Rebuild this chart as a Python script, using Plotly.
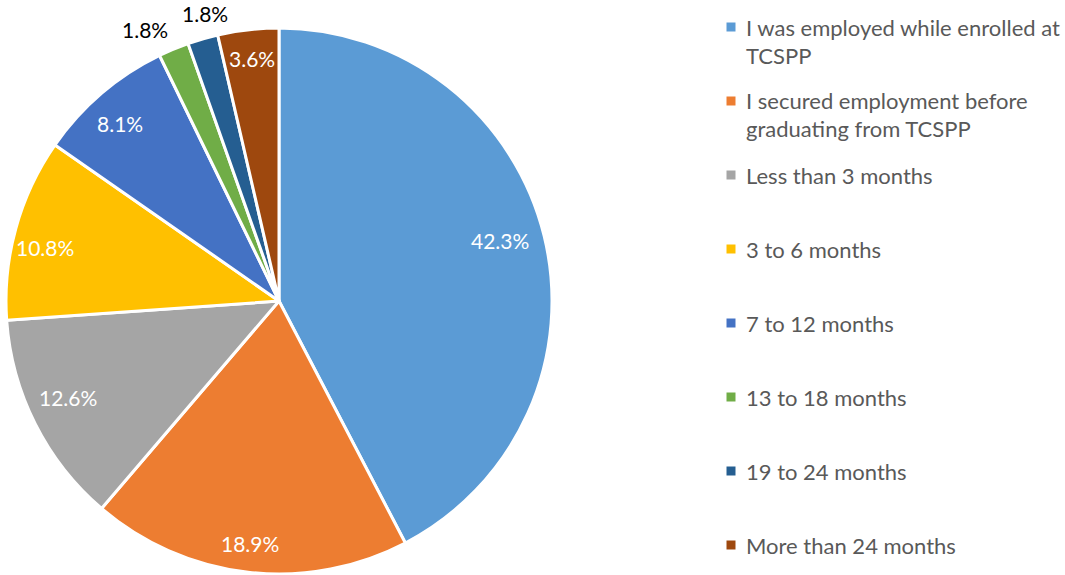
import math
import plotly.graph_objects as go

categories = [
    "I was employed while enrolled at<br>TCSPP",
    "I secured employment before<br>graduating from TCSPP",
    "Less than 3 months",
    "3 to 6 months",
    "7 to 12 months",
    "13 to 18 months",
    "19 to 24 months",
    "More than 24 months",
]
values = [42.3, 18.9, 12.6, 10.8, 8.1, 1.8, 1.8, 3.6]
colors = ["#5B9BD5", "#ED7D31", "#A5A5A5", "#FFC000", "#4472C4", "#70AD47", "#255E91", "#9E480E"]

# label style per slice: (inside?, radius as fraction of pie radius, angular nudge in degrees)
label_style = [
    (True, 0.84, -1.4),
    (True, 0.893, 0.3),
    (True, 0.85, 2.1),
    (True, 0.88, -2.6),
    (True, 0.875, -1.3),
    (False, 1.11, -3.5),
    (False, 1.088, 1.8),
    (True, 0.895, 0.2),
]

W, H = 1065, 575
FONT = "Lato, Carlito, Calibri, sans-serif"

# pie geometry in pixels
CX, CY, R = 279, 301, 273


def px(x):
    return x / W


def py(y):
    return 1 - y / H


fig = go.Figure()
fig.add_trace(go.Pie(
    labels=[c.replace("<br>", " ") for c in categories],
    values=values,
    sort=False,
    direction="clockwise",
    rotation=0,
    marker=dict(colors=colors, line=dict(color="white", width=3)),
    textinfo="none",
    showlegend=False,
    hoverinfo="label+value",
    domain=dict(x=[px(CX - R), px(CX + R)], y=[py(CY + R), py(CY - R)]),
))

annotations = []
shapes = []

# data labels placed along each slice's mid angle
total = sum(values)
cum = 0.0
for v, (inside, rf, nudge) in zip(values, label_style):
    mid = (cum + v / 2) / total * 2 * math.pi + math.radians(nudge)
    cum += v
    rr = R * rf
    x = CX + rr * math.sin(mid)
    y = CY - rr * math.cos(mid)
    annotations.append(dict(
        xref="paper", yref="paper", x=px(x), y=py(y),
        xanchor="center", yanchor="middle", showarrow=False,
        text=f"{v:.1f}%",
        font=dict(size=21, color="white" if inside else "black", family=FONT),
    ))

# custom legend
leg_x_sq = 731
leg_x_txt = 744
y0 = 27
step = 74
line_h = 28
for i, (lab, col) in enumerate(zip(categories, colors)):
    yc = y0 + i * step
    shapes.append(dict(type="rect", xref="paper", yref="paper",
                       x0=px(leg_x_sq - 4.5), x1=px(leg_x_sq + 4.5),
                       y0=py(yc + 4.5), y1=py(yc - 4.5),
                       fillcolor=col, line=dict(width=0)))
    for j, part in enumerate(lab.split("<br>")):
        annotations.append(dict(xref="paper", yref="paper",
                                x=px(leg_x_txt), y=py(yc + j * line_h),
                                xanchor="left", yanchor="middle",
                                text=part, showarrow=False,
                                font=dict(size=22, color="#595959", family=FONT)))

fig.update_layout(
    width=W, height=H,
    margin=dict(l=0, r=0, t=0, b=0),
    paper_bgcolor="white",
    plot_bgcolor="white",
    shapes=shapes,
    annotations=annotations,
    font=dict(family=FONT),
)

fig.write_html("out.html", config={"displayModeBar": False},
               post_script="document.body.style.margin='0';")
